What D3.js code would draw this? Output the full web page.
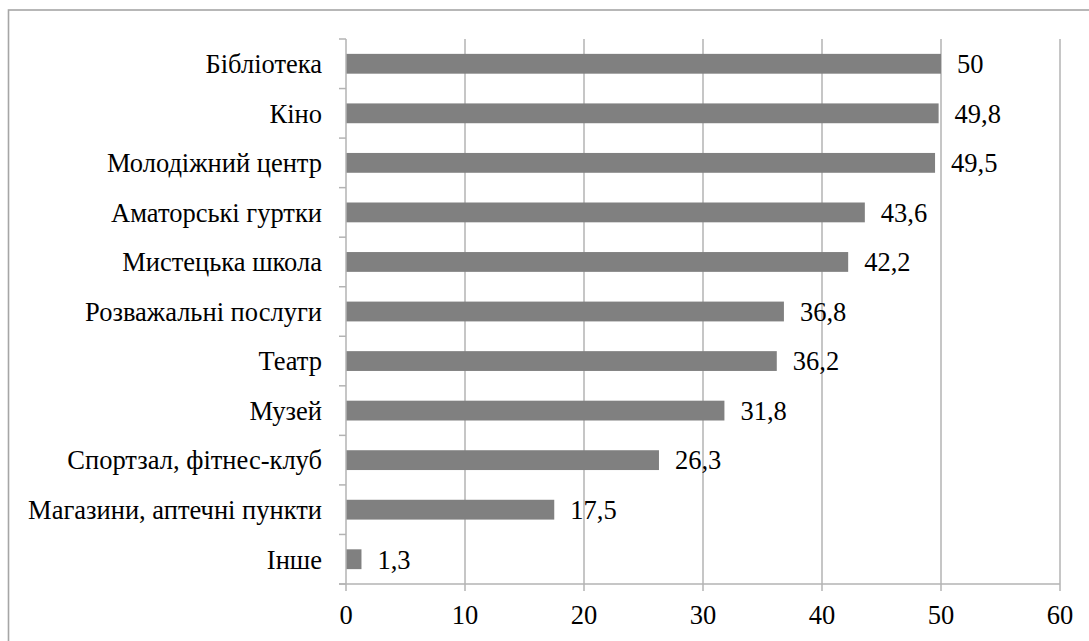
<!DOCTYPE html>
<html><head><meta charset="utf-8">
<script src="https://cdn.jsdelivr.net/npm/d3@7/dist/d3.min.js"></script>
<style>
body{margin:0;background:#fff;}
</style></head>
<body><svg id="c" width="1089" height="641"></svg>
<script>
const categories = ["Бібліотека","Кіно","Молодіжний центр","Аматорські гуртки","Мистецька школа","Розважальні послуги","Театр","Музей","Спортзал, фітнес-клуб","Магазини, аптечні пункти","Інше"];
const values = [50,49.8,49.5,43.6,42.2,36.8,36.2,31.8,26.3,17.5,1.3];
const valueLabels = ["50","49,8","49,5","43,6","42,2","36,8","36,2","31,8","26,3","17,5","1,3"];
const xTicks = [0,10,20,30,40,50,60];

const FONT = "Liberation Serif";
const FS = 26.5;
const svg = d3.select("#c");
const grid = "#b3b3b3";
// chart border
svg.append("rect").attr("x",8.5).attr("y",10).attr("width",1100).attr("height",700)
  .attr("fill","none").attr("stroke","#a6a6a6").attr("stroke-width",1.6);

const x = d3.scaleLinear().domain([0,60]).range([346,1060]);
const y = d3.scaleBand().domain(categories).range([39,584]).paddingInner(0.6).paddingOuter(0.3);
const yb = d3.scaleBand().domain(categories).range([39,584]);

// gridlines
svg.append("g").selectAll("line").data(xTicks.slice(1)).join("line")
  .attr("x1",d=>x(d)).attr("x2",d=>x(d)).attr("y1",39).attr("y2",584)
  .attr("stroke",grid).attr("stroke-width",1.5);

// bars
svg.append("g").selectAll("rect").data(values).join("rect")
  .attr("x",x(0)).attr("y",(d,i)=>y(categories[i]))
  .attr("width",d=>x(d)-x(0)).attr("height",y.bandwidth())
  .attr("fill","#808080");

// y axis line and ticks
svg.append("line").attr("x1",x(0)).attr("x2",x(0)).attr("y1",39).attr("y2",584)
  .attr("stroke",grid).attr("stroke-width",1.5);
const yTickPos = categories.map(c=>yb(c)).concat([584]);
svg.append("g").selectAll("line").data(yTickPos).join("line")
  .attr("x1",339).attr("x2",x(0)).attr("y1",d=>d).attr("y2",d=>d)
  .attr("stroke",grid).attr("stroke-width",1.5);

// x axis line and ticks
svg.append("line").attr("x1",339).attr("x2",x(60)).attr("y1",584).attr("y2",584)
  .attr("stroke",grid).attr("stroke-width",1.5);
svg.append("g").selectAll("line").data(xTicks).join("line")
  .attr("x1",d=>x(d)).attr("x2",d=>x(d)).attr("y1",584).attr("y2",591)
  .attr("stroke",grid).attr("stroke-width",1.5);

// x tick labels
svg.append("g").selectAll("text").data(xTicks).join("text")
  .attr("x",d=>x(d)).attr("y",624).attr("text-anchor","middle")
  .attr("font-family",FONT).attr("font-size",FS).text(d=>d);

// category labels
svg.append("g").selectAll("text").data(categories).join("text")
  .attr("x",322).attr("y",d=>yb(d)+yb.bandwidth()/2).attr("dy","0.35em")
  .attr("text-anchor","end").attr("font-family",FONT).attr("font-size",FS).text(d=>d);

// value labels
svg.append("g").selectAll("text").data(values).join("text")
  .attr("x",d=>x(d)+16).attr("y",(d,i)=>yb(categories[i])+yb.bandwidth()/2).attr("dy","0.35em")
  .attr("font-family",FONT).attr("font-size",FS).text((d,i)=>valueLabels[i]);
</script></body></html>
